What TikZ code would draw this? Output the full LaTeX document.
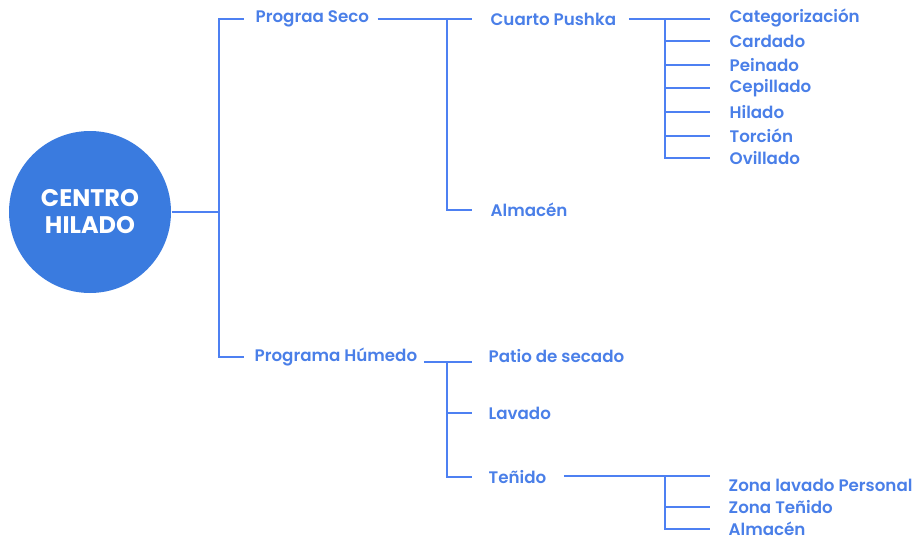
\documentclass[tikz,border=0pt]{standalone}
\usepackage{fontspec}
\setmainfont{Poppins}[UprightFont=* SemiBold, BoldFont=* Bold]
\usepackage{tikz}
\usetikzlibrary{positioning,calc}
\definecolor{HiloBlue}{HTML}{3A7BDF}
\definecolor{HiloInk}{HTML}{4A7FE8}
\definecolor{HiloLine}{HTML}{4D80F2}

\begin{document}
\begin{tikzpicture}[x=1pt, y=-1pt, line width=1.3pt,
  hub/.style={circle, fill=HiloBlue, minimum size=162pt, inner sep=0pt, text=white, align=center, font=\fontsize{24}{27}\selectfont\bfseries},
  item/.style={anchor=west, inner sep=0pt, text=HiloInk, font=\fontsize{16.7}{18}\selectfont},
  link/.style={draw=HiloLine}]

\useasboundingbox (0,0) rectangle (921,541);

\node[hub] (hub) at (90,212) {CENTRO\\HILADO};

\node[item] (seco) at (255,19) {Prograa Seco};
\node[item] (humedo) at (254,357) {Programa Húmedo};

\node[item] (pushka) at (490,19) {Cuarto Pushka};
\node[item] (almA) at (490,210) {Almacén};

\node[item] (patio) at (488,356) {Patio de secado};
\node[item] (lavado) at (488,413) {Lavado};
\node[item] (tenido) at (488,477) {Teñido};

\foreach \t/\y [count=\i] in {Categorización/18, Cardado/41, Peinado/65, Cepillado/88, Hilado/112, Torción/136, Ovillado/158}
  {\node[item] (sub\i) at (729,\y) {\t};}

\node[item] (zlp) at (728,485) {Zona lavado Personal};
\node[item] (zt) at (728,507) {Zona Teñido};
\node[item] (almB) at (728,529) {Almacén};

% junctions
\coordinate (s1) at (219,212);
\coordinate (s2) at (447,19);
\coordinate (s3) at (665,19);
\coordinate (s4) at (447,362);
\coordinate (s5) at (665,476);

\draw[link] (hub.east) -- (s1);
\draw[link] (s1) |- ([xshift=-11pt]seco.west);
\draw[link] (s1) |- ([xshift=-10pt]humedo.west);

\draw[link] ([xshift=8pt]seco.east) -- ([xshift=-18pt]pushka.west);
\draw[link] (s2) |- ([xshift=-18pt]almA.west);

\draw[link] ([xshift=12pt]pushka.east) -- ($(pushka.east -| sub1.west)+(-19pt,0)$);
\foreach \i in {2,...,7}{\draw[link] (s3) |- ([xshift=-19pt]sub\i.west);}

\draw[link] ([xshift=6pt]humedo.east |- s4) -- ($(s4 -| patio.west)+(-16pt,0)$);
\draw[link] (s4) |- ([xshift=-16pt]lavado.west);
\draw[link] (s4) |- ([xshift=-16pt]tenido.west);

\draw[link] ([xshift=17pt]tenido.east |- s5) -- ($(s5 -| zlp.west)+(-18pt,0)$);
\draw[link] (s5) |- ([xshift=-18pt]zt.west);
\draw[link] (s5) |- ([xshift=-18pt]almB.west);
\end{tikzpicture}
\end{document}
